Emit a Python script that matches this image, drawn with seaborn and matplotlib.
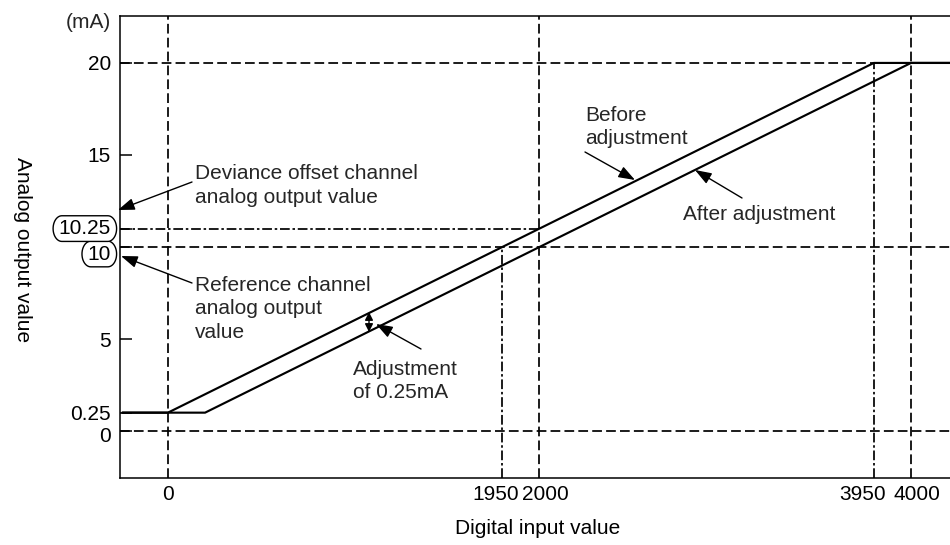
import numpy as np
import pandas as pd
import matplotlib
matplotlib.use("Agg")
import matplotlib.pyplot as plt
import seaborn as sns
from matplotlib.transforms import ScaledTranslation
from matplotlib.path import Path

# ---------------- data ----------------
digital_ticks = [0, 1950, 2000, 3950, 4000]
digital_tick_labels = ["0", "1950", "2000", "3950", "4000"]
analog_ticks = [0, 0.25, 5, 10, 10.25, 15, 20]
analog_tick_labels = ["0", "0.25", "5", "10", "10.25", "15", "20"]
circled_labels = ["10", "10.25"]

before_x = [-245, 0, 3950, 4300]
before_y = [0.25, 0.25, 20, 20]
after_x = [-245, 50, 4000, 4300]
after_y = [0.25, 0.25, 20, 20]

# reference (guide) lines
full_vlines = [0, 2000, 4000]            # dashed, full height
partial_vlines = [1950, 3950]            # dash-dot, from bottom up to...
partial_vline_tops = [10, 20]
full_hlines = [0, 10]                    # dashed, full width
dashed_hline_y = [20]                    # dashed, from left to...
dashed_hline_end = [3950]
dashdot_hline_y = [10.25]                # dash-dot, from left to...
dashdot_hline_end = [2000]

# schematic (not-to-scale) axis mapping used by the original diagram
x_true_nodes = [-1e5, 0, 50, 1950, 2000, 3950, 4000, 1e5]
x_disp_nodes = [-1e5, 0, 200, 1800, 2000, 3800, 4000, 1e5]
y_true_nodes = [-1e3, 0, 0.25, 5, 10, 10.25, 15, 20, 1e3]
y_disp_nodes = [-1e3, 0, 1, 5, 10, 11, 15, 20, 1e3]

# ---------------- style ----------------
sns.set_theme(style="white")
plt.rcParams["font.family"] = ["Liberation Sans", "DejaVu Sans"]
plt.rcParams["lines.scale_dashes"] = False
FS = 15

W, H = 950, 545
fig = plt.figure(figsize=(W / 100, H / 100), dpi=100)
ax = fig.add_axes([120 / W, 1 - 478 / H, 830 / W, 462 / H])


def P(x, y):
    """reference-pixel position -> figure fraction"""
    return (x / W, 1 - y / H)


ax.set_xscale("function", functions=(
    lambda v: np.interp(np.asarray(v, float), x_true_nodes, x_disp_nodes),
    lambda v: np.interp(np.asarray(v, float), x_disp_nodes, x_true_nodes)))
ax.set_yscale("function", functions=(
    lambda v: np.interp(np.asarray(v, float), y_true_nodes, y_disp_nodes),
    lambda v: np.interp(np.asarray(v, float), y_disp_nodes, y_true_nodes)))

XMIN, XMAX = -258, 4210
YMIN, YMAX = -2.55, 22.55

dash = (0, (7, 3))
dashdot = (0, (7, 2, 1.8, 2))
glw = 1.25

# guide lines
ax.vlines(full_vlines, YMIN, YMAX, colors="black", linestyles=[dash], lw=glw, zorder=2)
ax.vlines(partial_vlines, YMIN, partial_vline_tops, colors="black", linestyles=[dashdot], lw=glw, zorder=2)
ax.hlines(full_hlines, XMIN, XMAX, colors="black", linestyles=[dash], lw=glw, zorder=2)
ax.hlines(dashed_hline_y, XMIN, dashed_hline_end, colors="black", linestyles=[dash], lw=glw, zorder=2)
ax.hlines(dashdot_hline_y, XMIN, dashdot_hline_end, colors="black", linestyles=[dashdot], lw=glw, zorder=2)

# characteristic lines
df = pd.DataFrame({
    "digital": before_x + after_x,
    "analog": before_y + after_y,
    "series": ["Before adjustment"] * len(before_x) + ["After adjustment"] * len(after_x),
})
sns.lineplot(data=df, x="digital", y="analog", hue="series", palette=["black", "black"],
             sort=False, estimator=None, legend=False, lw=1.55, ax=ax, zorder=3)

ax.set_xlim(XMIN, XMAX)
ax.set_ylim(YMIN, YMAX)

# spines
for s in ["left", "bottom", "top"]:
    ax.spines[s].set_visible(True)
    ax.spines[s].set_color("black")
    ax.spines[s].set_linewidth(1.1)
ax.spines["right"].set_visible(False)

ax.set_xticks(digital_ticks, digital_tick_labels)
ax.set_yticks(analog_ticks, analog_tick_labels)
ax.minorticks_off()
ax.tick_params(axis="y", direction="in", length=8.6, width=1.1, color="black",
               pad=6.5, labelsize=FS, labelcolor="black", left=True)
ax.tick_params(axis="x", direction="in", length=0, pad=5, labelsize=FS,
               labelcolor="black", bottom=True)
ax.grid(False)

# axis labels
ax.set_xlabel("Digital input value", fontsize=FS, color="black", va="center")
ax.xaxis.set_label_coords((538 - 120) / 830, (478 - 529) / 462)
ax.set_ylabel("Analog output value", fontsize=FS, color="black", rotation=-90,
              va="center", ha="center")
ax.yaxis.set_label_coords((22 - 120) / 830, (478 - 250) / 462)

fig.text(*P(111, 22), "(mA)", fontsize=FS, ha="right", va="center")

# annotation texts
ls = 1.33
fig.text(*P(195, 185.5), "Deviance offset channel\nanalog output value", fontsize=FS,
         ha="left", va="center", linespacing=ls)
fig.text(*P(195, 309), "Reference channel\nanalog output\nvalue", fontsize=FS,
         ha="left", va="center", linespacing=ls)
fig.text(*P(585, 127), "Before\nadjustment", fontsize=FS, ha="left", va="center", linespacing=ls)
fig.text(*P(683, 214), "After adjustment", fontsize=FS, ha="left", va="center")
fig.text(*P(353, 381), "Adjustment\nof 0.25mA", fontsize=FS, ha="left", va="center", linespacing=ls)

arrow = dict(arrowstyle="-|>,head_length=1.0,head_width=0.36", color="black", lw=1.0,
             mutation_scale=10, shrinkA=0, shrinkB=0)
for tail, tip in [((192, 182), (118, 210)),
                  ((192, 283), (121, 256)),
                  ((585, 152), (635, 180)),
                  ((742, 198), (695, 170)),
                  ((421, 349), (376, 324))]:
    ax.annotate("", xy=P(*tip), xycoords="figure fraction",
                xytext=P(*tail), textcoords="figure fraction", arrowprops=arrow)

ax.annotate("", xy=P(369, 312), xycoords="figure fraction",
            xytext=P(369, 332), textcoords="figure fraction",
            arrowprops=dict(arrowstyle="<|-|>,head_length=0.8,head_width=0.4", color="black",
                            lw=1.0, mutation_scale=6, shrinkA=0, shrinkB=0))


def pill(x0, y0, width, height, mutation_size):
    """rounded 'circle' around a tick value, as in the original"""
    px, py = 0.27 * mutation_size, 0.16 * mutation_size
    x0, y0 = x0 - px, y0 - py
    x1, y1 = x0 + width + 2 * px, y0 + height + 2 * py
    rx = min(0.42 * mutation_size, (x1 - x0) / 2)
    ry = (y1 - y0) / 2
    yc = (y0 + y1) / 2
    a1 = np.linspace(-np.pi / 2, np.pi / 2, 25)
    a2 = np.linspace(np.pi / 2, 3 * np.pi / 2, 25)
    right = np.column_stack([x1 - rx + rx * np.cos(a1), yc + ry * np.sin(a1)])
    left = np.column_stack([x0 + rx + rx * np.cos(a2), yc + ry * np.sin(a2)])
    verts = np.vstack([right, left, right[:1]])
    return Path(verts, closed=True)


# circled tick labels and small offsets of crowded labels
y_shift = {"0": -3, "10": -5, "10.25": 2}
for lbl in ax.get_yticklabels():
    t = lbl.get_text()
    if t in circled_labels:
        lbl.set_bbox(dict(boxstyle=pill, fc="white", ec="black", lw=1.0))
    if t in y_shift:
        lbl.set_transform(lbl.get_transform() +
                          ScaledTranslation(0, y_shift[t] / 100, fig.dpi_scale_trans))

x_shift = {"1950": -7, "2000": 6, "3950": -11, "4000": 6}
for lbl in ax.get_xticklabels():
    dx = x_shift.get(lbl.get_text(), 0)
    if dx:
        lbl.set_transform(lbl.get_transform() + ScaledTranslation(dx / 100, 0, fig.dpi_scale_trans))

fig.savefig("out.png", dpi=100)
